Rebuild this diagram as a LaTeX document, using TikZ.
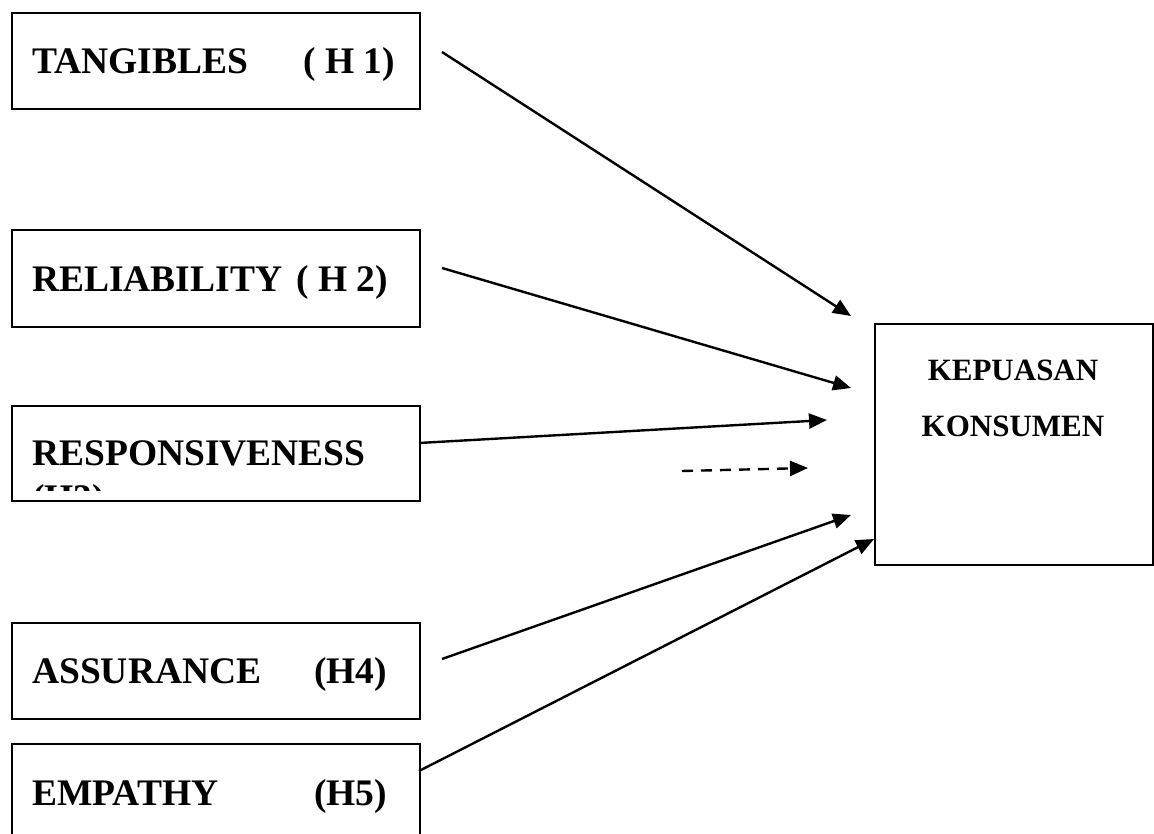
\documentclass[tikz,border=0pt]{standalone}
\usepackage{fontspec}
\setmainfont{Liberation Serif}
\usetikzlibrary{arrows.meta}
\begin{document}
\begin{tikzpicture}[x=1pt,y=-1pt,
  box/.style={draw, line width=2.2pt, inner sep=0pt, anchor=north west, minimum width=408pt},
  lbl/.style={inner sep=0pt, anchor=base west, font=\fontsize{37.5}{45}\selectfont\bfseries},
  conn/.style={line width=2.4pt, -{Triangle[length=18pt,width=15pt]}},
  dconn/.style={conn, dash pattern=on 11pt off 8pt}]
\useasboundingbox (0,0) rectangle (1154,834);
\fill[white] (0,0) rectangle (1154,834);
% boxes
\node[box, minimum height=96pt] (tang) at (11,12) {};
\node[box, minimum height=97pt] (reli) at (11,229) {};
\node[box, minimum height=95pt] (resp) at (11,405) {};
\node[box, minimum height=96pt] (assu) at (11,622) {};
\node[box, minimum height=120pt] (empa) at (11,743) {};
\node[draw, line width=2.2pt, inner sep=0pt, anchor=north west, minimum width=278pt, minimum height=241pt] (kep) at (874,323) {};
% texts
\node[lbl] (ttang) at (32,74) {\hbox to 363pt{TANGIBLES\hfill( H 1)}};
\node[lbl] (treli) at (32,292) {\hbox to 356pt{RELIABILITY\hfill( H 2)}};
\begin{scope}
\clip (11,405) rectangle (419,490);
\node[lbl, align=left] (tresp) at (32,510) {RESPONSIVENESS\\(H3)};
\end{scope}
\node[lbl] (tassu) at (32,683) {\hbox to 355pt{ASSURANCE\hfill(H4)}};
\node[lbl] (tempa) at (32,805) {\hbox to 355pt{EMPATHY\hfill(H5)}};
\node[inner sep=0pt, anchor=base, align=center, font=\fontsize{31}{56}\selectfont\bfseries] (tkep) at (1013,436) {KEPUASAN\\KONSUMEN};
% connector ends
\coordinate (s1) at (442,52);  \coordinate (e1) at (851,316);
\coordinate (s2) at (442,268); \coordinate (e2) at (851,388);
\coordinate (s3) at (419,443); \coordinate (e3) at (827,420);
\coordinate (sd) at (682,471); \coordinate (ed) at (808,468);
\coordinate (s4) at (442,659); \coordinate (e4) at (851,515);
\coordinate (s5) at (419,771); \coordinate (e5) at (874,539);
\draw[conn] (s1) -- (e1);
\draw[conn] (s2) -- (e2);
\draw[conn] (s3) -- (e3);
\draw[dconn] (sd) -- (ed);
\draw[conn] (s4) -- (e4);
\draw[conn] (s5) -- (e5);
\end{tikzpicture}
\end{document}
